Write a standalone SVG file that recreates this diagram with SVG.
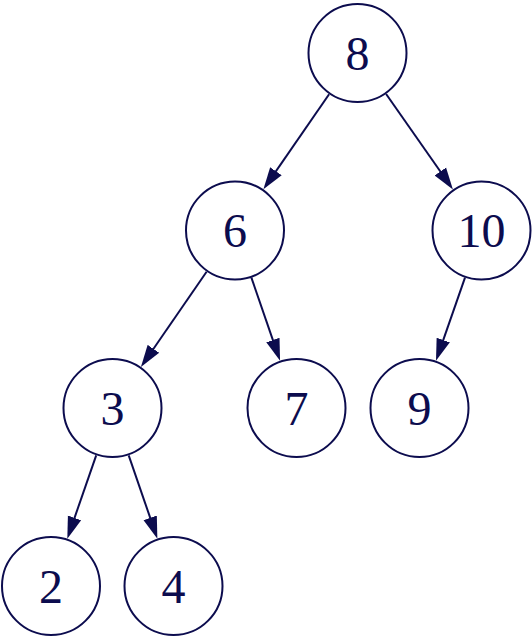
<svg xmlns="http://www.w3.org/2000/svg" width="532" height="638" viewBox="0 0 532 638">
<defs>
<style>
.node circle{fill:#fff;stroke:#0c0c4e;stroke-width:2}
.node text{font-family:"Liberation Serif","DejaVu Serif",serif;font-size:48px;fill:#0c0c4e;text-anchor:middle}
.edges line{stroke:#0c0c4e;stroke-width:2;marker-end:url(#arr)}
</style>
<marker id="arr" markerUnits="userSpaceOnUse" markerWidth="23" markerHeight="16" refX="12" refY="8" orient="auto">
<path d="M0,1 L22,8 L0,15 z" fill="#0c0c4e"/>
</marker>
</defs>
<rect width="532" height="638" fill="#fff"/>
<g class="edges">
<line x1="329.1" y1="94.2" x2="269.1" y2="181.1"/>
<line x1="386.1" y1="94.0" x2="447.2" y2="181.3"/>
<line x1="206.6" y1="271.7" x2="146.6" y2="358.7"/>
<line x1="251.4" y1="277.7" x2="276.8" y2="351.4"/>
<line x1="465.0" y1="277.7" x2="439.3" y2="351.4"/>
<line x1="96.2" y1="455.3" x2="70.6" y2="529.2"/>
<line x1="128.7" y1="455.3" x2="154.1" y2="529.2"/>
</g>
<g id="n8" class="node"><circle cx="357.5" cy="53" r="49"/><text x="357.5" y="69.5">8</text></g>
<g id="n6" class="node"><circle cx="235" cy="230.5" r="49"/><text x="235" y="247">6</text></g>
<g id="n10" class="node"><circle cx="481.5" cy="230.5" r="49"/><text x="481.5" y="247">10</text></g>
<g id="n3" class="node"><circle cx="112.5" cy="408" r="49"/><text x="112.5" y="424.5">3</text></g>
<g id="n7" class="node"><circle cx="296.5" cy="408" r="49"/><text x="296.5" y="424.5">7</text></g>
<g id="n9" class="node"><circle cx="419.5" cy="408" r="49"/><text x="419.5" y="424.5">9</text></g>
<g id="n2" class="node"><circle cx="51" cy="586" r="49"/><text x="51" y="602.5">2</text></g>
<g id="n4" class="node"><circle cx="173.5" cy="586" r="49"/><text x="173.5" y="602.5">4</text></g>
</svg>
